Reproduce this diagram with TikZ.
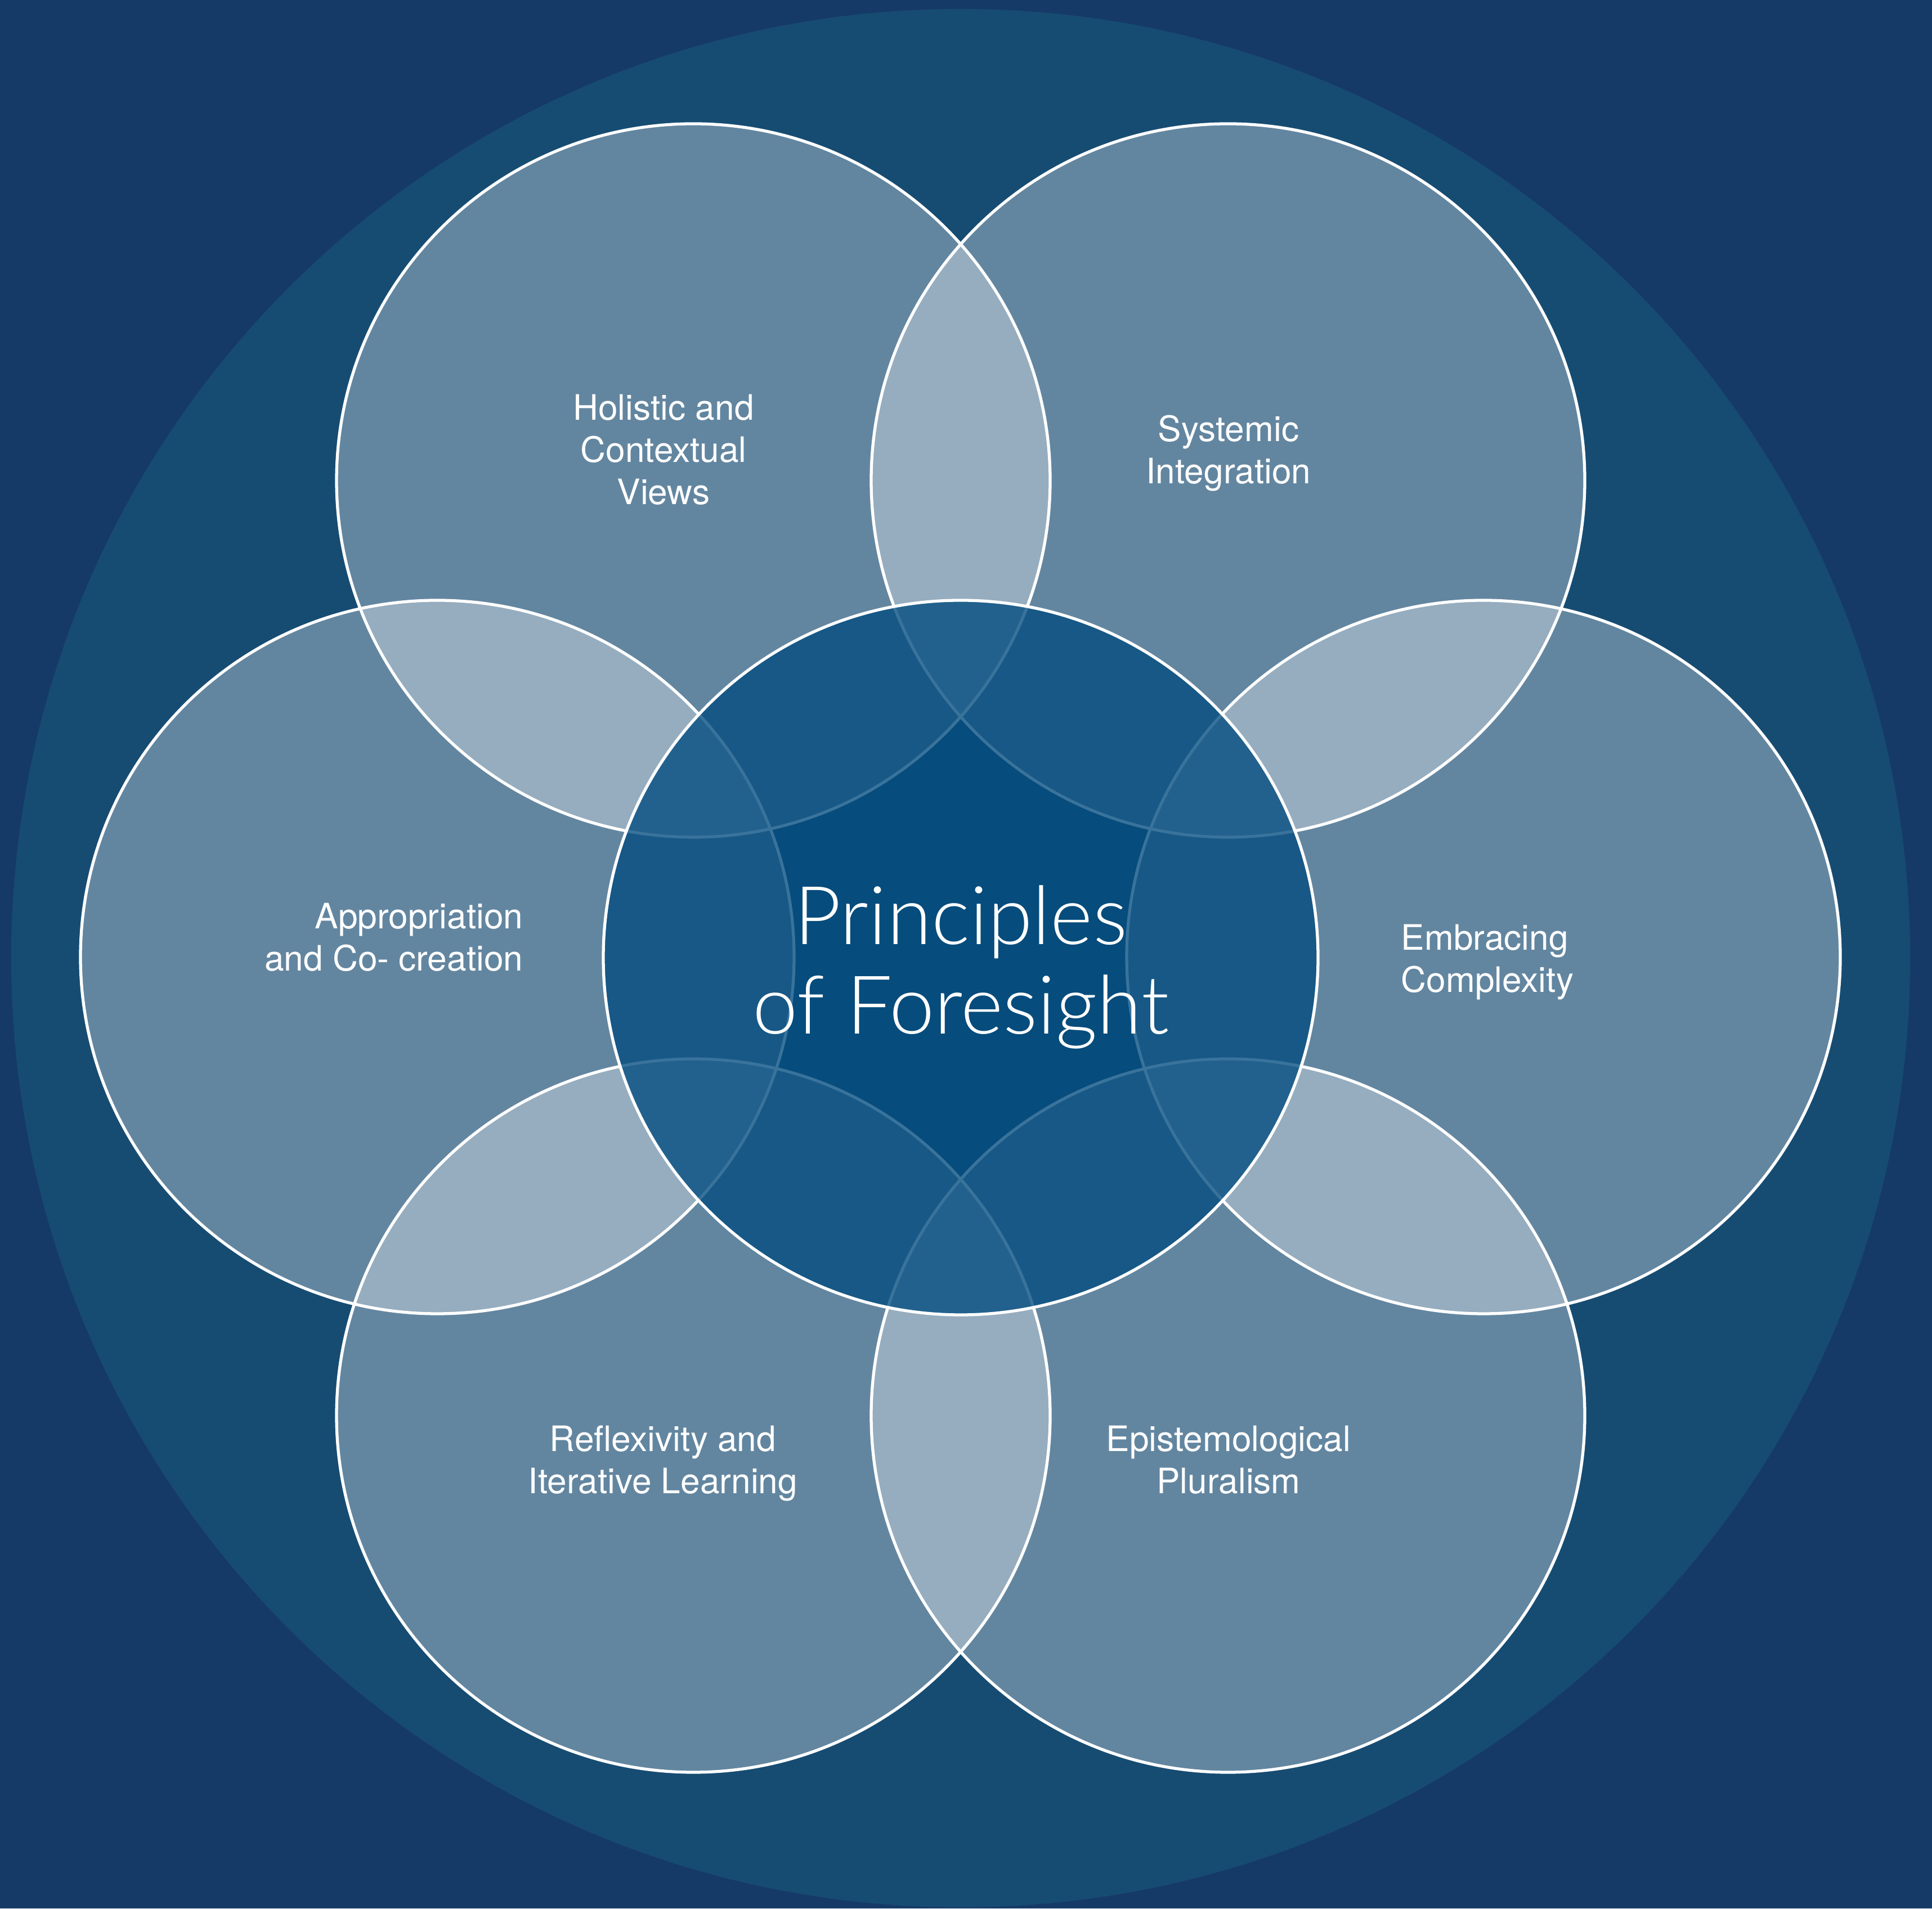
\documentclass[tikz,border=0pt]{standalone}
\usepackage{fontspec}
\setmainfont{TeX Gyre Heros}
\newfontfamily\thinfont{Lato Light}
\usetikzlibrary{positioning}
\definecolor{navy}{HTML}{163A67}
\definecolor{ring}{HTML}{174C72}
\definecolor{core}{HTML}{024C7F}
\tikzset{petal/.style={circle, draw=white, line width=1.5pt, fill=white, fill opacity=0.33, minimum size=12.68cm, inner sep=0pt},
	heart/.style={circle, draw=white, line width=1.5pt, fill=core, fill opacity=0.78, minimum size=12.7cm, inner sep=0pt},
	lbl/.style={text=white, font=\fontsize{17.7}{21.3}\selectfont, inner sep=0pt},
	title/.style={text=white, font=\thinfont\fontsize{41}{45.5}\selectfont, align=center, inner sep=0pt}}

\begin{document}
\begin{tikzpicture}
	% page and outer field
	\fill[navy] (0,0) rectangle (34.33,33.92);
	\node[circle, fill=ring, minimum size=33.74cm, inner sep=0pt] (field) at (17.07,16.89) {};
	% the six principles
	\node[petal] (holistic) at (12.32,25.38) {};
	\node[petal] (systemic) at (21.82,25.38) {};
	\node[petal] (approp) at (7.77,16.91) {};
	\node[petal] (complex) at (26.36,16.91) {};
	\node[petal] (reflex) at (12.32,8.76) {};
	\node[petal] (plural) at (21.82,8.76) {};
	\node[heart] (core) at (17.07,16.90) {};
	% labels
	\node[lbl, align=center] (t-holistic) at (11.79,25.93) {Holistic and\\Contextual\\Views};
	\node[lbl, align=center] (t-systemic) at (21.83,25.86) {Systemic\\Integration};
	\node[lbl, align=right, anchor=east] (t-approp) at (9.30,17.26) {Appropriation\\and Co- creation};
	\node[lbl, align=left, anchor=west] (t-complex) at (24.89,16.82) {Embracing\\Complexity};
	\node[lbl, align=center] (t-reflex) at (11.78,7.91) {Reflexivity and\\Iterative Learning};
	\node[lbl, align=center] (t-plural) at (21.83,7.97) {Epistemological\\Pluralism};
	\node[title] (t-core) at (17.07,16.73) {Principles\\of Foresight};
\end{tikzpicture}
\end{document}
